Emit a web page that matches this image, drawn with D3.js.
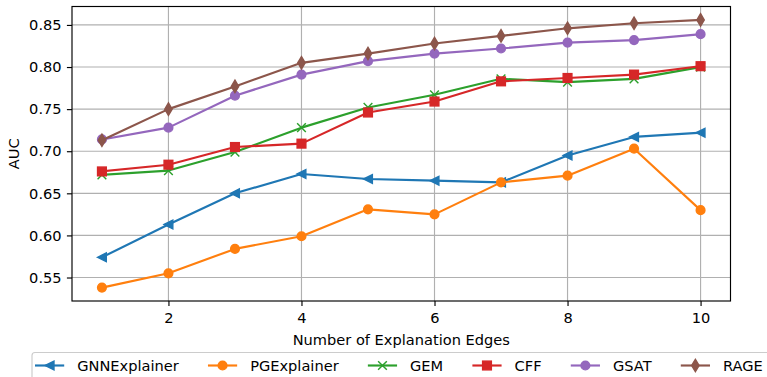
<!DOCTYPE html>
<html>
<head>
<meta charset="utf-8">
<script src="https://cdn.jsdelivr.net/npm/d3@7"></script>
<style>
  body { margin: 0; background: #fff; }
  svg { font-family: "DejaVu Sans", sans-serif; }
</style>
</head>
<body>
<svg id="chart" width="767" height="377"></svg>
<script>
// data
const edges = [1, 2, 3, 4, 5, 6, 7, 8, 9, 10];
const gnnExplainer = [0.574, 0.613, 0.650, 0.673, 0.667, 0.665, 0.663, 0.695, 0.717, 0.722];
const pgExplainer  = [0.538, 0.555, 0.584, 0.599, 0.631, 0.625, 0.663, 0.671, 0.703, 0.630];
const gem          = [0.672, 0.677, 0.699, 0.728, 0.752, 0.767, 0.786, 0.782, 0.786, 0.800];
const cff          = [0.676, 0.684, 0.705, 0.709, 0.746, 0.759, 0.783, 0.787, 0.791, 0.801];
const gsat         = [0.714, 0.728, 0.766, 0.791, 0.807, 0.816, 0.822, 0.829, 0.832, 0.839];
const rage         = [0.713, 0.750, 0.777, 0.805, 0.816, 0.828, 0.837, 0.846, 0.852, 0.856];
const xTicks = [2, 4, 6, 8, 10];
const yTicks = [0.55, 0.60, 0.65, 0.70, 0.75, 0.80, 0.85];

const series = [
  { name: "GNNExplainer", values: gnnExplainer, color: "#1f77b4", marker: "tri" },
  { name: "PGExplainer",  values: pgExplainer,  color: "#ff7f0e", marker: "circle" },
  { name: "GEM",          values: gem,          color: "#2ca02c", marker: "x" },
  { name: "CFF",          values: cff,          color: "#d62728", marker: "square" },
  { name: "GSAT",         values: gsat,         color: "#9467bd", marker: "circle" },
  { name: "RAGE",         values: rage,         color: "#8c564b", marker: "diamond" }
];

const svg = d3.select("#chart");
const axL = 72, axR = 730.5, axT = 6.5, axB = 301;
const fs = 14.6;

// matplotlib style 5% margins
const allVals = series.flatMap(s => s.values);
const yMin = d3.min(allVals), yMax = d3.max(allVals), yPad = (yMax - yMin) * 0.05;
const x = d3.scaleLinear().domain([1 - 0.45, 10 + 0.45]).range([axL, axR]);
const y = d3.scaleLinear().domain([yMin - yPad, yMax + yPad]).range([axB, axT]);

// grid
svg.append("g").selectAll("line").data(xTicks).enter().append("line")
  .attr("x1", d => x(d)).attr("x2", d => x(d))
  .attr("y1", axT).attr("y2", axB)
  .attr("stroke", "#b0b0b0").attr("stroke-width", 1.15);
svg.append("g").selectAll("line").data(yTicks).enter().append("line")
  .attr("x1", axL).attr("x2", axR)
  .attr("y1", d => y(d)).attr("y2", d => y(d))
  .attr("stroke", "#b0b0b0").attr("stroke-width", 1.15);

// axes
const xAxis = svg.append("g").attr("transform", "translate(0," + axB + ")")
  .call(d3.axisBottom(x).tickValues(xTicks).tickFormat(d3.format("d")).tickSize(5.1).tickPadding(6.8).tickSizeOuter(0));
const yAxis = svg.append("g").attr("transform", "translate(" + axL + ",0)")
  .call(d3.axisLeft(y).tickValues(yTicks).tickFormat(d3.format(".2f")).tickSize(5.1).tickPadding(5.3).tickSizeOuter(0));
[xAxis, yAxis].forEach(a => {
  a.select(".domain").remove();
  a.selectAll("text").attr("font-size", fs).attr("fill", "#000").attr("font-family", "DejaVu Sans");
  a.selectAll("line").attr("stroke", "#000").attr("stroke-width", 1.15);
});

// spines
svg.append("rect")
  .attr("x", axL).attr("y", axT)
  .attr("width", axR - axL).attr("height", axB - axT)
  .attr("fill", "none").attr("stroke", "#000").attr("stroke-width", 1.15);

// axis labels
svg.append("text").attr("x", (axL + axR) / 2).attr("y", 344.5)
  .attr("text-anchor", "middle").attr("font-size", fs).text("Number of Explanation Edges");
svg.append("text").attr("transform", "translate(19," + ((axT + axB) / 2) + ") rotate(-90)")
  .attr("text-anchor", "middle").attr("font-size", fs).text("AUC");

const ms = 8.7, mew = 1.45;
function drawMarker(g, type, color) {
  const h = ms / 2;
  if (type === "circle") {
    g.append("circle").attr("r", h).attr("fill", color).attr("stroke", color).attr("stroke-width", mew);
  } else if (type === "square") {
    g.append("rect").attr("x", -h).attr("y", -h).attr("width", ms).attr("height", ms)
      .attr("fill", color).attr("stroke", color).attr("stroke-width", mew);
  } else if (type === "tri") {
    g.append("path").attr("d", `M${-h},0L${h},${-h}L${h},${h}Z`)
      .attr("fill", color).attr("stroke", color).attr("stroke-width", mew);
  } else if (type === "diamond") {
    const dh = ms * 0.707, dw = dh * 0.6;
    g.append("path").attr("d", `M0,${-dh}L${dw},0L0,${dh}L${-dw},0Z`)
      .attr("fill", color).attr("stroke", color).attr("stroke-width", mew);
  } else if (type === "x") {
    g.append("path").attr("d", `M${-h},${-h}L${h},${h}M${-h},${h}L${h},${-h}`)
      .attr("fill", "none").attr("stroke", color).attr("stroke-width", mew);
  }
}

const line = d3.line().x((d, i) => x(edges[i])).y(d => y(d));

series.forEach(s => {
  const g = svg.append("g");
  g.append("path").datum(s.values).attr("d", line)
    .attr("fill", "none").attr("stroke", s.color).attr("stroke-width", 2.15)
    .attr("stroke-linejoin", "round").attr("stroke-linecap", "square");
  g.selectAll("g.m").data(s.values).enter().append("g").attr("class", "m")
    .attr("transform", (d, i) => "translate(" + x(edges[i]) + "," + y(d) + ")")
    .each(function () { drawMarker(d3.select(this), s.marker, s.color); });
});

// legend, one row below the axes
const legend = svg.append("g");
const legBox = legend.append("rect")
  .attr("x", 32).attr("y", 352.5).attr("rx", 3)
  .attr("fill", "#fff").attr("fill-opacity", 0.8)
  .attr("stroke", "#cccccc").attr("stroke-width", 1.15);
const handleLen = 2 * fs, textPad = 13, colSpace = 2 * fs;
let lx = 35;
const ly = 365.5;
series.forEach(s => {
  const item = legend.append("g");
  item.append("line").attr("x1", lx).attr("x2", lx + handleLen).attr("y1", ly).attr("y2", ly)
    .attr("stroke", s.color).attr("stroke-width", 2.15);
  const mk = item.append("g").attr("transform", "translate(" + (lx + handleLen / 2) + "," + ly + ")");
  drawMarker(mk, s.marker, s.color);
  const t = item.append("text").attr("x", lx + handleLen + textPad).attr("y", ly + 5.3)
    .attr("font-size", fs).text(s.name);
  lx = lx + handleLen + textPad + t.node().getComputedTextLength() + colSpace;
});
legBox.attr("width", lx).attr("height", 40);
</script>
</body>
</html>
